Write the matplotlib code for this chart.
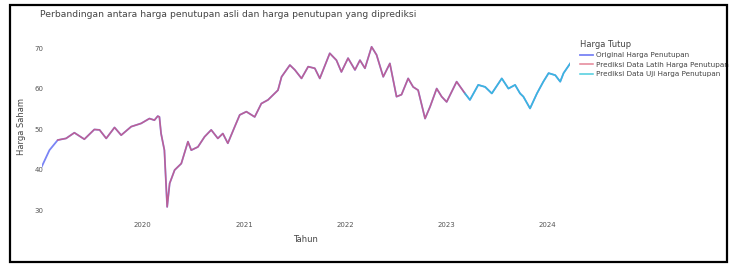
import matplotlib
matplotlib.use("Agg")
import matplotlib.pyplot as plt
import matplotlib.dates as mdates
from matplotlib.patches import Rectangle
import pandas as pd

# nilai (harga penutupan)
dates = [
    "2019-01-02", "2019-01-30", "2019-03-01", "2019-03-31", "2019-04-30", "2019-06-05",
    "2019-07-11", "2019-07-30", "2019-08-23", "2019-09-22", "2019-10-16", "2019-11-21",
    "2019-12-27", "2020-01-26", "2020-02-13", "2020-02-25", "2020-03-02", "2020-03-08",
    "2020-03-20", "2020-03-30", "2020-04-08", "2020-04-26", "2020-05-20", "2020-06-13",
    "2020-06-25", "2020-07-19", "2020-08-12", "2020-09-05", "2020-09-29", "2020-10-17",
    "2020-11-04", "2020-11-29", "2020-12-17", "2021-01-10", "2021-02-09", "2021-03-05",
    "2021-03-29", "2021-05-04", "2021-05-17", "2021-06-16", "2021-07-04", "2021-07-28",
    "2021-08-21", "2021-09-14", "2021-10-02", "2021-11-07", "2021-12-01", "2021-12-19",
    "2022-01-12", "2022-02-06", "2022-02-24", "2022-03-14", "2022-04-07", "2022-04-25",
    "2022-05-19", "2022-06-12", "2022-07-06", "2022-07-24", "2022-08-17", "2022-09-04",
    "2022-09-22", "2022-10-17", "2022-11-04", "2022-11-28", "2022-12-16", "2023-01-03",
    "2023-02-08", "2023-03-10", "2023-03-28", "2023-04-27", "2023-05-22", "2023-06-15",
    "2023-07-21", "2023-08-14", "2023-09-07", "2023-09-25", "2023-10-07", "2023-10-31",
    "2023-11-25", "2023-12-18", "2024-01-06", "2024-01-30", "2024-02-17", "2024-02-29",
    "2024-03-24",
]
close = [
    40.7, 44.8, 47.3, 47.7, 49.1, 47.5,
    49.9, 49.8, 47.7, 50.4, 48.5, 50.6,
    51.4, 52.6, 52.2, 53.2, 53.0, 48.9,
    44.8, 30.8, 36.6, 39.9, 41.5, 46.9,
    44.8, 45.6, 48.1, 49.8, 47.7, 48.9,
    46.5, 50.6, 53.5, 54.3, 53.0, 56.3,
    57.2, 59.6, 62.9, 65.8, 64.6, 62.5,
    65.4, 65.0, 62.5, 68.7, 67.0, 64.1,
    67.5, 64.6, 67.0, 65.0, 70.3, 68.3,
    62.9, 66.2, 58.0, 58.5, 62.5, 60.4,
    59.6, 52.6, 55.5, 60.0, 58.0, 56.7,
    61.7, 58.8, 57.2, 60.9, 60.4, 58.8,
    62.5, 60.0, 60.9, 58.8, 58.0, 55.1,
    58.8, 61.7, 63.8, 63.3, 61.7, 63.8,
    66.2,
]
train_start = "2019-03-01"
test_start = "2023-03-10"

labels = [
    "Original Harga Penutupan",
    "Prediksi Data Latih Harga Penutupan",
    "Prediksi Data Uji Harga Penutupan",
]
colors = ["#7a84f5", "#d9506a", "#2cc4d8"]

df = pd.DataFrame({"date": pd.to_datetime(dates), "close": close})
train = df[(df["date"] >= train_start) & (df["date"] <= test_start)]
test = df[df["date"] >= test_start]

fig = plt.figure(figsize=(7.3, 2.66), dpi=100)
ax = fig.add_axes([0.0571, 0.1917, 0.724, 0.6628])

ax.plot(df["date"], df["close"], color=colors[0], lw=1.3, label=labels[0])
ax.plot(train["date"], train["close"], color=colors[1], lw=1.1, alpha=0.7, label=labels[1])
ax.plot(test["date"], test["close"], color=colors[2], lw=1.1, alpha=0.85, label=labels[2])

ax.set_xlim(df["date"].min(), df["date"].max())
ax.set_ylim(28.8, 72.3)
ax.set_yticks([30, 40, 50, 60, 70])
ax.xaxis.set_major_locator(mdates.YearLocator())
ax.xaxis.set_major_formatter(mdates.DateFormatter("%Y"))
ax.tick_params(length=0, labelsize=5, colors="#555555")
ax.tick_params(axis="y", pad=-1)
ax.tick_params(axis="x", pad=5)
for s in ax.spines.values():
    s.set_visible(False)

ax.set_xlabel("Tahun", fontsize=6, color="#444444", labelpad=5)
ax.set_ylabel("Harga Saham", fontsize=6, color="#444444", labelpad=6)

fig.text(0.055, 0.945, "Perbandingan antara harga penutupan asli dan harga penutupan yang diprediksi",
         fontsize=6.7, color="#444444", va="center")

leg = ax.legend(loc="upper left", bbox_to_anchor=(0.79, 0.86), bbox_transform=fig.transFigure,
                title="Harga Tutup", fontsize=5.2, title_fontsize=6, frameon=False,
                handlelength=1.8, handletextpad=0.5, labelspacing=0.45, borderaxespad=0)
leg._legend_box.align = "left"
for t in leg.get_texts():
    t.set_color("#444444")
leg.get_title().set_color("#444444")

# bingkai hitam di sekeliling gambar
fig.patches.append(Rectangle((0.0137, 0.015), 0.982, 0.966, transform=fig.transFigure,
                             fill=False, edgecolor="black", lw=1.6))

fig.savefig("out.png", dpi=100)
plt.close(fig)
